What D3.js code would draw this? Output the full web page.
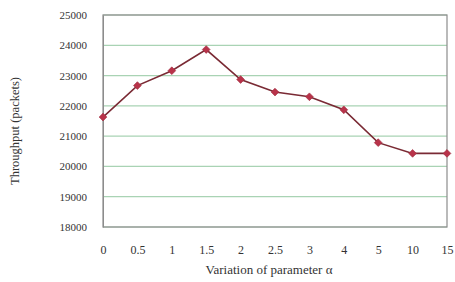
<!DOCTYPE html>
<html>
<head>
<meta charset="utf-8">
<script src="https://cdn.jsdelivr.net/npm/d3@7"></script>
<style>
  body { margin: 0; background: #fff; }
  text { font-family: "Liberation Serif", "DejaVu Serif", serif; fill: #333; }
</style>
</head>
<body>
<div id="chart"></div>
<script>
// values
var alphas = ["0", "0.5", "1", "1.5", "2", "2.5", "3", "4", "5", "10", "15"];
var throughput = [21630, 22670, 23160, 23860, 22870, 22455, 22300, 21870, 20785, 20430, 20430];
var yTicks = [18000, 19000, 20000, 21000, 22000, 23000, 24000, 25000];

var cwidth = 455, cheight = 282;
var margin = {top: 15, right: 8, bottom: 55, left: 103}
    , width = cwidth - margin.left - margin.right
    , height = cheight - margin.top - margin.bottom;

var xScale = d3.scalePoint()
    .domain(alphas)
    .range([0, width]);

var yScale = d3.scaleLinear()
    .domain([18000, 25000])
    .range([height, 0]);

var svg = d3.select("#chart").append("svg")
    .attr("width", cwidth)
    .attr("height", cheight)
    .append("g")
    .attr("transform", "translate(" + margin.left + "," + margin.top + ")");

// horizontal gridlines
svg.append("g").attr("class", "grid")
    .selectAll("line").data(yTicks).enter().append("line")
    .attr("x1", 0).attr("x2", width)
    .attr("y1", function(d) { return yScale(d); })
    .attr("y2", function(d) { return yScale(d); })
    .attr("stroke", "#a9d3b4")
    .attr("stroke-width", 1.2);

// plot frame
svg.append("rect")
    .attr("x", 0).attr("y", 0)
    .attr("width", width).attr("height", height)
    .attr("fill", "none")
    .attr("stroke", "#8c8c8c")
    .attr("stroke-width", 1.2);

// y axis
var yAxis = svg.append("g")
    .call(d3.axisLeft(yScale).tickValues(yTicks).tickSize(0).tickPadding(16).tickFormat(d3.format("d")));
yAxis.select(".domain").attr("stroke", "#8c8c8c");
yAxis.selectAll("text").attr("font-size", 11).attr("fill", "#444")
    .style("font-family", "Liberation Serif, serif");

// x axis
var xAxis = svg.append("g")
    .attr("transform", "translate(0," + height + ")")
    .call(d3.axisBottom(xScale).tickSize(0).tickPadding(18));
xAxis.select(".domain").remove();
xAxis.selectAll("text").attr("font-size", 12).attr("fill", "#333")
    .style("font-family", "Liberation Serif, serif");

// line
var valueLine = d3.line()
    .x(function(d, i) { return xScale(alphas[i]); })
    .y(function(d) { return yScale(d); });

svg.append("path")
    .data([throughput])
    .attr("d", valueLine)
    .attr("fill", "none")
    .attr("stroke", "#7a2a34")
    .attr("stroke-width", 1.6);

// diamond markers (square turned 45 degrees, like excel)
svg.selectAll(".pt").data(throughput).enter().append("path")
    .attr("class", "pt")
    .attr("d", d3.symbol().type(d3.symbolSquare).size(30))
    .attr("transform", function(d, i) { return "translate(" + xScale(alphas[i]) + "," + yScale(d) + ") rotate(45)"; })
    .attr("fill", "#b8334a")
    .attr("stroke", "#a02a3e")
    .attr("stroke-width", 0.6);

// axis titles
svg.append("text")
    .attr("text-anchor", "middle")
    .attr("x", width / 2 - 6)
    .attr("y", height + 47)
    .attr("font-size", 13)
    .text("Variation of parameter α");

svg.append("text")
    .attr("text-anchor", "middle")
    .attr("transform", "translate(" + (-84) + "," + (height / 2 + 10) + ") rotate(-90)")
    .attr("font-size", 12.5)
    .text("Throughput (packets)");
</script>
</body>
</html>
